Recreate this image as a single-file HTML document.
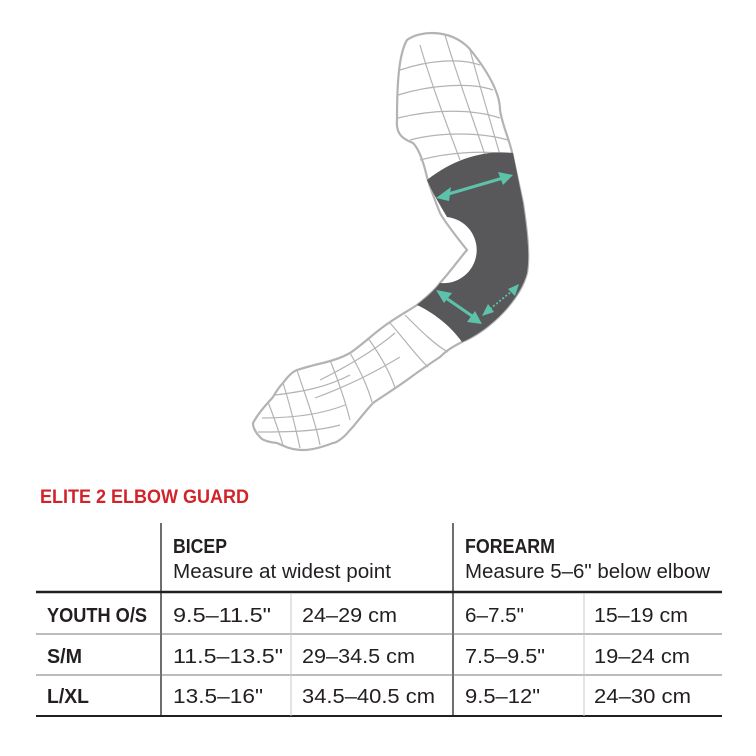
<!DOCTYPE html>
<html><head><meta charset="utf-8"><style>
html,body{margin:0;padding:0;background:#fff;}
svg{display:block;}
text{font-family:"Liberation Sans Narrow","Liberation Sans",sans-serif;fill:#231f20;}
.b{font-weight:bold;}
</style></head><body>
<svg width="756" height="756" viewBox="0 0 756 756" xmlns="http://www.w3.org/2000/svg">
<g fill="none" stroke="#b3b3b3" stroke-width="2.2" stroke-linejoin="round">
<path fill="#fff" d="M407,40 C420,30 455,28 473,53 C490,75 500,95 500,110 C502,125 510,140 513,157 L523,203 C527,230 530,255 527,273 C520,300 490,330 462,342 C450,348 445,352 440,357 C425,367 415,374 407,380 C390,392 380,398 373,403 C362,415 355,425 350,430 C342,440 335,443 333,443 C320,448 310,450 303,450 C290,450 282,445 277,443 C268,442 262,440 260,437 C255,432 253,428 253,423 C260,410 268,403 273,397 C277,390 280,386 283,383 C288,376 292,372 297,370 C310,366 318,364 323,363 C335,360 343,357 350,353 C362,345 372,335 383,327 C395,318 408,311 417,305 C427,297 435,290 440,283 C450,272 460,258 467,250 C455,235 445,222 440,213 C434,198 430,188 427,177 C423,160 418,148 413,143 C400,138 396,132 397,120 C397,90 398,55 407,40 Z"/>
<g stroke-width="1.2">
<path d="M400,70 C430,60 460,58 480,65"/><path d="M398,95 C430,85 470,82 493,90"/>
<path d="M398,118 C430,110 470,108 500,118"/><path d="M410,140 C440,132 480,132 508,140"/>
<path d="M420,160 C450,152 485,150 513,155"/>
<path d="M420,45 C430,80 445,120 460,160"/><path d="M445,35 C455,70 470,110 485,155"/>
<path d="M470,50 C478,80 490,120 500,155"/>
<path d="M405,315 C420,330 435,345 448,352"/><path d="M390,323 C405,340 418,358 428,367"/>
<path d="M368,338 C380,355 390,372 395,388"/><path d="M350,353 C360,370 368,388 372,402"/>
<path d="M330,360 C338,380 345,400 350,420"/>
<path d="M395,333 C375,350 350,365 320,380"/><path d="M400,357 C375,372 350,385 315,398"/>
<path d="M297,370 C305,395 315,420 320,445"/><path d="M283,383 C290,405 295,425 300,448"/>
<path d="M268,402 C275,420 280,435 283,445"/>
<path d="M275,395 C300,392 325,388 350,375"/><path d="M262,418 C290,418 320,415 345,405"/>
<path d="M258,432 C285,432 315,432 340,425"/>
</g>
<path fill="#58585a" stroke="none" d="M427,180 C455,158 485,150 513,153 L523,203 C527,230 530,255 527,273 C520,300 490,330 462,342 C450,325 432,312 417,305 C427,297 435,290 440,283 A33,33 0 1 0 447,217 C440,205 432,192 427,180 Z"/>
</g>
<g stroke="#5cc2a9" stroke-width="3" fill="#5cc2a9">
<line x1="445" y1="195" x2="503" y2="178"/>
<polygon points="436,198 451,187 449,201" stroke="none"/>
<polygon points="513,175 498,172 503,185" stroke="none"/>
<line x1="443" y1="296" x2="475" y2="318"/>
<polygon points="436,290 452,293 444,303" stroke="none"/>
<polygon points="482,324 467,322 475,311" stroke="none"/>
<line x1="490" y1="309" x2="512" y2="291" stroke-width="1.8" stroke-dasharray="2,2"/>
<polygon points="482,316 488,304 494,312" stroke="none"/>
<polygon points="519,284 508,289 515,296" stroke="none"/>
</g>
<text x="40" y="503" class="b" font-size="19" textLength="209" lengthAdjust="spacingAndGlyphs" style="fill:#d2232a">ELITE 2 ELBOW GUARD</text>
<g stroke="#231f20">
<line x1="161" y1="523" x2="161" y2="716" stroke-width="1.3"/>
<line x1="453" y1="523" x2="453" y2="716" stroke-width="1.3"/>
<line x1="36" y1="592" x2="722" y2="592" stroke-width="2.5"/>
<line x1="36" y1="716" x2="722" y2="716" stroke-width="2"/>
</g>
<g stroke="#7a7a7a" stroke-width="1">
<line x1="36" y1="634" x2="722" y2="634"/><line x1="36" y1="675" x2="722" y2="675"/>
</g>
<g stroke="#c8c8c8" stroke-width="1">
<line x1="291" y1="593" x2="291" y2="716"/><line x1="584" y1="593" x2="584" y2="716"/>
</g>
<g font-size="20">
<text x="173" y="553" class="b" textLength="54" lengthAdjust="spacingAndGlyphs">BICEP</text>
<text x="173" y="578" textLength="218" lengthAdjust="spacingAndGlyphs">Measure at widest point</text>
<text x="465" y="553" class="b" textLength="90" lengthAdjust="spacingAndGlyphs">FOREARM</text>
<text x="465" y="578" textLength="245" lengthAdjust="spacingAndGlyphs">Measure 5–6" below elbow</text>
<text x="47" y="622" class="b" textLength="100" lengthAdjust="spacingAndGlyphs">YOUTH O/S</text>
<text x="47" y="663" class="b" textLength="35" lengthAdjust="spacingAndGlyphs">S/M</text>
<text x="47" y="703" class="b" textLength="42" lengthAdjust="spacingAndGlyphs">L/XL</text>
<text x="173" y="622" textLength="98" lengthAdjust="spacingAndGlyphs">9.5–11.5"</text>
<text x="302" y="622" textLength="95" lengthAdjust="spacingAndGlyphs">24–29 cm</text>
<text x="465" y="622" textLength="59" lengthAdjust="spacingAndGlyphs">6–7.5"</text>
<text x="594" y="622" textLength="94" lengthAdjust="spacingAndGlyphs">15–19 cm</text>
<text x="173" y="663" textLength="110" lengthAdjust="spacingAndGlyphs">11.5–13.5"</text>
<text x="302" y="663" textLength="113" lengthAdjust="spacingAndGlyphs">29–34.5 cm</text>
<text x="465" y="663" textLength="80" lengthAdjust="spacingAndGlyphs">7.5–9.5"</text>
<text x="594" y="663" textLength="96" lengthAdjust="spacingAndGlyphs">19–24 cm</text>
<text x="173" y="703" textLength="90" lengthAdjust="spacingAndGlyphs">13.5–16"</text>
<text x="302" y="703" textLength="133" lengthAdjust="spacingAndGlyphs">34.5–40.5 cm</text>
<text x="465" y="703" textLength="75" lengthAdjust="spacingAndGlyphs">9.5–12"</text>
<text x="594" y="703" textLength="97" lengthAdjust="spacingAndGlyphs">24–30 cm</text>
</g>
</svg>
</body></html>
